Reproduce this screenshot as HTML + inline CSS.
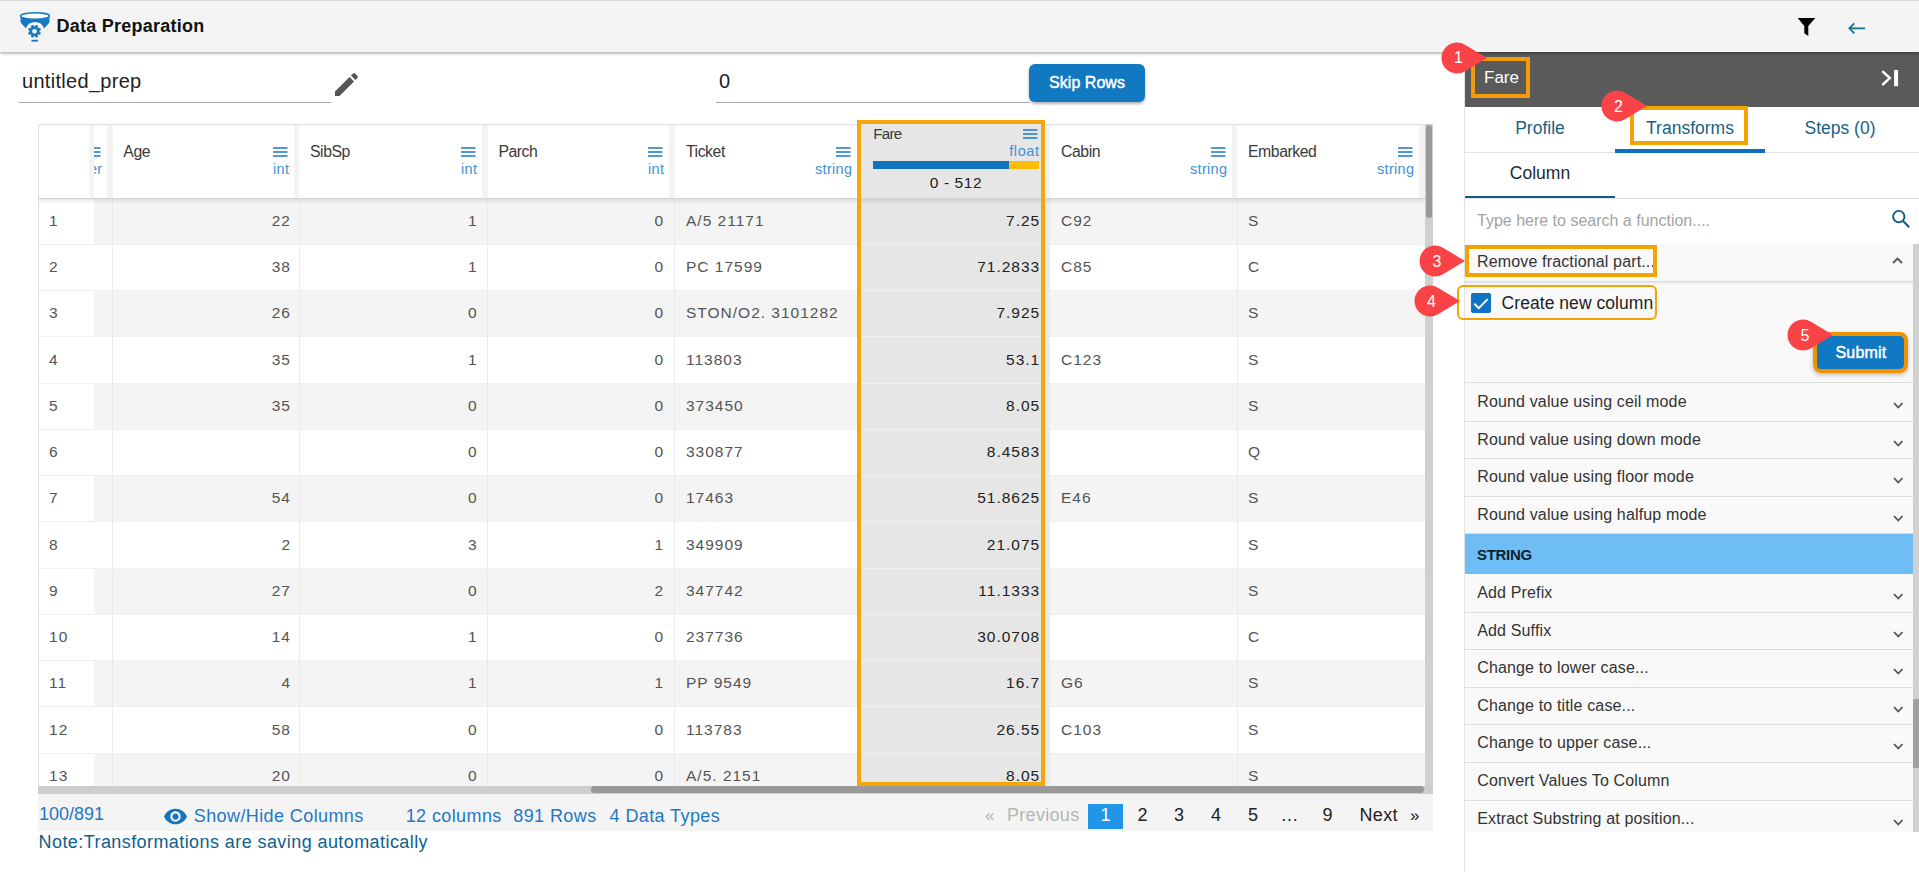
<!DOCTYPE html>
<html><head><meta charset="utf-8"><title>Data Preparation</title><style>
*{margin:0;padding:0;box-sizing:border-box}
html,body{width:1919px;height:872px;overflow:hidden;background:#fff;font-family:"Liberation Sans",sans-serif;position:relative}
.t{position:absolute;line-height:1;white-space:nowrap}
.r{position:absolute}
svg{position:absolute;overflow:visible}
</style></head><body>
<div class="r" style="left:0px;top:0px;width:1919px;height:52px;background:#f4f4f4;border-top:1px solid #dcdcdc;box-shadow:0 1.5px 3px rgba(0,0,0,.33);z-index:2"></div>
<svg style="left:20px;top:12px;z-index:3" width="30" height="30" viewBox="0 0 30 30">
<ellipse cx="15" cy="4" rx="14.5" ry="3.2" fill="#fff" stroke="#1478c5" stroke-width="1.4"/>
<path d="M0.6 4.5 L0.6 10.5 L6 16.5 A9.5 9.5 0 0 1 24 16.5 L29.4 10.5 L29.4 4.5 A14.5 3.6 0 0 1 0.6 4.5 Z" fill="#1478c5"/>
<g transform="translate(14.5,19.3)" fill="#1478c5">
<circle r="5.0"/>
<rect x="-1.3" y="-6.5" width="2.6" height="13" rx="0.5" transform="rotate(22.5)"/>
<rect x="-1.3" y="-6.5" width="2.6" height="13" rx="0.5" transform="rotate(67.5)"/>
<rect x="-1.3" y="-6.5" width="2.6" height="13" rx="0.5" transform="rotate(112.5)"/>
<rect x="-1.3" y="-6.5" width="2.6" height="13" rx="0.5" transform="rotate(157.5)"/>
<circle r="2.4" fill="#f4f4f4"/>
</g>
<rect x="11.5" y="27.8" width="6.5" height="1.8" fill="#1478c5"/>
</svg>
<div class="t" style="left:56.4px;top:16.8px;font-size:18px;color:#111;font-weight:bold;letter-spacing:0.25px;z-index:3">Data Preparation</div>
<svg style="left:1797px;top:18px;z-index:3" width="19" height="18" viewBox="0 0 19 18"><path d="M0.7 0 H18.3 L11.3 8 V18 L7.3 15.3 V8 Z" fill="#000"/></svg>
<svg style="left:1848px;top:21.5px;z-index:3" width="18" height="12" viewBox="0 0 18 12"><path d="M17 6.3 H1.5 M6.3 1.3 L1.3 6.3 L6.3 11.3" fill="none" stroke="#14708f" stroke-width="1.7"/></svg>
<div class="t" style="left:22.0px;top:71.4px;font-size:20px;color:#222;letter-spacing:0.3px;">untitled_prep</div>
<div class="r" style="left:19px;top:102px;width:312px;height:1px;background:#a6a6a6;"></div>
<svg style="left:335px;top:72.8px" width="24" height="23" viewBox="0 0 24 23"><path d="M0 23 L0 18.5 L14.5 4 L19 8.5 L4.5 23 Z M16 2.5 L18 0.5 Q19 -0.3 20 0.5 L22.5 3 Q23.3 4 22.5 5 L20.5 7 Z" fill="#555"/></svg>
<div class="t" style="left:719.0px;top:71.4px;font-size:20px;color:#222;">0</div>
<div class="r" style="left:716px;top:102px;width:313px;height:1px;background:#a6a6a6;"></div>
<div class="r" style="left:1029px;top:64px;width:116px;height:38px;background:#1178c2;border-radius:6px;box-shadow:0 2px 3px rgba(0,0,0,.3)"></div>
<div class="t" style="left:1049.0px;top:74.7px;font-size:16px;color:#fff;letter-spacing:0.05px;-webkit-text-stroke:0.45px #fff">Skip Rows</div>
<div class="r" style="left:38px;top:124px;width:1387px;height:1px;background:#dedede;"></div>
<div class="r" style="left:38px;top:124px;width:1px;height:662px;background:#dedede;"></div>
<div class="r" style="left:39px;top:125px;width:1386px;height:73px;background:#fff;"></div>
<div class="r" style="left:89px;top:125px;width:5px;height:73px;background:#f3f3f3;"></div>
<div class="r" style="left:107px;top:125px;width:5.5px;height:73px;background:#f3f3f3;"></div>
<div class="r" style="left:294px;top:125px;width:5px;height:73px;background:#f3f3f3;"></div>
<div class="r" style="left:482px;top:125px;width:5.5px;height:73px;background:#f3f3f3;"></div>
<div class="r" style="left:669px;top:125px;width:6px;height:73px;background:#f3f3f3;"></div>
<div class="r" style="left:1045px;top:125px;width:4.5px;height:73px;background:#f3f3f3;"></div>
<div class="r" style="left:1232px;top:125px;width:5px;height:73px;background:#f3f3f3;"></div>
<div class="r" style="left:1419px;top:125px;width:6px;height:73px;background:#f3f3f3;"></div>
<div class="r" style="left:39px;top:198px;width:1386px;height:588px;overflow:hidden">
<div class="r" style="left:55px;top:0.0px;width:1331px;height:46.25px;background:#f4f4f4;"></div>
<div class="r" style="left:55px;top:92.5px;width:1331px;height:46.25px;background:#f4f4f4;"></div>
<div class="r" style="left:55px;top:185.0px;width:1331px;height:46.25px;background:#f4f4f4;"></div>
<div class="r" style="left:55px;top:277.5px;width:1331px;height:46.25px;background:#f4f4f4;"></div>
<div class="r" style="left:55px;top:370.0px;width:1331px;height:46.25px;background:#f4f4f4;"></div>
<div class="r" style="left:55px;top:462.5px;width:1331px;height:46.25px;background:#f4f4f4;"></div>
<div class="r" style="left:55px;top:555.0px;width:1331px;height:46.25px;background:#f4f4f4;"></div>
<div class="r" style="left:0px;top:45.85px;width:1386px;height:1.0px;background:#efefef;"></div>
<div class="r" style="left:0px;top:92.1px;width:1386px;height:1.0px;background:#efefef;"></div>
<div class="r" style="left:0px;top:138.35px;width:1386px;height:1.0px;background:#efefef;"></div>
<div class="r" style="left:0px;top:184.6px;width:1386px;height:1.0px;background:#efefef;"></div>
<div class="r" style="left:0px;top:230.85px;width:1386px;height:1.0px;background:#efefef;"></div>
<div class="r" style="left:0px;top:277.1px;width:1386px;height:1.0px;background:#efefef;"></div>
<div class="r" style="left:0px;top:323.35px;width:1386px;height:1.0px;background:#efefef;"></div>
<div class="r" style="left:0px;top:369.6px;width:1386px;height:1.0px;background:#efefef;"></div>
<div class="r" style="left:0px;top:415.85px;width:1386px;height:1.0px;background:#efefef;"></div>
<div class="r" style="left:0px;top:462.1px;width:1386px;height:1.0px;background:#efefef;"></div>
<div class="r" style="left:0px;top:508.35px;width:1386px;height:1.0px;background:#efefef;"></div>
<div class="r" style="left:0px;top:554.6px;width:1386px;height:1.0px;background:#efefef;"></div>
<div class="r" style="left:0px;top:600.85px;width:1386px;height:1.0px;background:#efefef;"></div>
<div class="r" style="left:73px;top:0px;width:1px;height:588px;background:#ebebeb;"></div>
<div class="r" style="left:260px;top:0px;width:1px;height:588px;background:#ebebeb;"></div>
<div class="r" style="left:448px;top:0px;width:1px;height:588px;background:#ebebeb;"></div>
<div class="r" style="left:635.2px;top:0px;width:1.0px;height:588px;background:#ebebeb;"></div>
<div class="r" style="left:1198px;top:0px;width:1px;height:588px;background:#ebebeb;"></div>
<div class="r" style="left:822px;top:0px;width:180px;height:588px;background:#e6e6e6;"></div>
<div class="r" style="left:822px;top:45.85px;width:180px;height:1.0px;background:#f0f0f0;"></div>
<div class="r" style="left:822px;top:92.1px;width:180px;height:1.0px;background:#f0f0f0;"></div>
<div class="r" style="left:822px;top:138.35px;width:180px;height:1.0px;background:#f0f0f0;"></div>
<div class="r" style="left:822px;top:184.6px;width:180px;height:1.0px;background:#f0f0f0;"></div>
<div class="r" style="left:822px;top:230.85px;width:180px;height:1.0px;background:#f0f0f0;"></div>
<div class="r" style="left:822px;top:277.1px;width:180px;height:1.0px;background:#f0f0f0;"></div>
<div class="r" style="left:822px;top:323.35px;width:180px;height:1.0px;background:#f0f0f0;"></div>
<div class="r" style="left:822px;top:369.6px;width:180px;height:1.0px;background:#f0f0f0;"></div>
<div class="r" style="left:822px;top:415.85px;width:180px;height:1.0px;background:#f0f0f0;"></div>
<div class="r" style="left:822px;top:462.1px;width:180px;height:1.0px;background:#f0f0f0;"></div>
<div class="r" style="left:822px;top:508.35px;width:180px;height:1.0px;background:#f0f0f0;"></div>
<div class="r" style="left:822px;top:554.6px;width:180px;height:1.0px;background:#f0f0f0;"></div>
<div class="r" style="left:822px;top:600.85px;width:180px;height:1.0px;background:#f0f0f0;"></div>
<div class="r" style="left:1006px;top:0px;width:4.5px;height:588px;background:#ececec;"></div>
<div class="t" style="left:10.1px;top:14.8px;font-size:15.5px;color:#555;letter-spacing:1.0px">1</div>
<div class="t" style="right:1134.0px;top:14.8px;font-size:15.5px;color:#555;letter-spacing:1.0px">22</div>
<div class="t" style="right:947.5px;top:14.8px;font-size:15.5px;color:#555;letter-spacing:1.0px">1</div>
<div class="t" style="right:760.8px;top:14.8px;font-size:15.5px;color:#555;letter-spacing:1.0px">0</div>
<div class="t" style="left:647.0px;top:14.8px;font-size:15.5px;color:#555;letter-spacing:1.0px">A/5 21171</div>
<div class="t" style="right:384.8px;top:14.8px;font-size:15.5px;color:#222;letter-spacing:1.0px">7.25</div>
<div class="t" style="left:1022.0px;top:14.8px;font-size:15.5px;color:#555;letter-spacing:1.0px">C92</div>
<div class="t" style="left:1209.0px;top:14.8px;font-size:15.5px;color:#555;letter-spacing:1.0px">S</div>
<div class="t" style="left:10.1px;top:61.0px;font-size:15.5px;color:#555;letter-spacing:1.0px">2</div>
<div class="t" style="right:1134.0px;top:61.0px;font-size:15.5px;color:#555;letter-spacing:1.0px">38</div>
<div class="t" style="right:947.5px;top:61.0px;font-size:15.5px;color:#555;letter-spacing:1.0px">1</div>
<div class="t" style="right:760.8px;top:61.0px;font-size:15.5px;color:#555;letter-spacing:1.0px">0</div>
<div class="t" style="left:647.0px;top:61.0px;font-size:15.5px;color:#555;letter-spacing:1.0px">PC 17599</div>
<div class="t" style="right:384.8px;top:61.0px;font-size:15.5px;color:#222;letter-spacing:1.0px">71.2833</div>
<div class="t" style="left:1022.0px;top:61.0px;font-size:15.5px;color:#555;letter-spacing:1.0px">C85</div>
<div class="t" style="left:1209.0px;top:61.0px;font-size:15.5px;color:#555;letter-spacing:1.0px">C</div>
<div class="t" style="left:10.1px;top:107.3px;font-size:15.5px;color:#555;letter-spacing:1.0px">3</div>
<div class="t" style="right:1134.0px;top:107.3px;font-size:15.5px;color:#555;letter-spacing:1.0px">26</div>
<div class="t" style="right:947.5px;top:107.3px;font-size:15.5px;color:#555;letter-spacing:1.0px">0</div>
<div class="t" style="right:760.8px;top:107.3px;font-size:15.5px;color:#555;letter-spacing:1.0px">0</div>
<div class="t" style="left:647.0px;top:107.3px;font-size:15.5px;color:#555;letter-spacing:1.0px">STON/O2. 3101282</div>
<div class="t" style="right:384.8px;top:107.3px;font-size:15.5px;color:#222;letter-spacing:1.0px">7.925</div>
<div class="t" style="left:1209.0px;top:107.3px;font-size:15.5px;color:#555;letter-spacing:1.0px">S</div>
<div class="t" style="left:10.1px;top:153.5px;font-size:15.5px;color:#555;letter-spacing:1.0px">4</div>
<div class="t" style="right:1134.0px;top:153.5px;font-size:15.5px;color:#555;letter-spacing:1.0px">35</div>
<div class="t" style="right:947.5px;top:153.5px;font-size:15.5px;color:#555;letter-spacing:1.0px">1</div>
<div class="t" style="right:760.8px;top:153.5px;font-size:15.5px;color:#555;letter-spacing:1.0px">0</div>
<div class="t" style="left:647.0px;top:153.5px;font-size:15.5px;color:#555;letter-spacing:1.0px">113803</div>
<div class="t" style="right:384.8px;top:153.5px;font-size:15.5px;color:#222;letter-spacing:1.0px">53.1</div>
<div class="t" style="left:1022.0px;top:153.5px;font-size:15.5px;color:#555;letter-spacing:1.0px">C123</div>
<div class="t" style="left:1209.0px;top:153.5px;font-size:15.5px;color:#555;letter-spacing:1.0px">S</div>
<div class="t" style="left:10.1px;top:199.8px;font-size:15.5px;color:#555;letter-spacing:1.0px">5</div>
<div class="t" style="right:1134.0px;top:199.8px;font-size:15.5px;color:#555;letter-spacing:1.0px">35</div>
<div class="t" style="right:947.5px;top:199.8px;font-size:15.5px;color:#555;letter-spacing:1.0px">0</div>
<div class="t" style="right:760.8px;top:199.8px;font-size:15.5px;color:#555;letter-spacing:1.0px">0</div>
<div class="t" style="left:647.0px;top:199.8px;font-size:15.5px;color:#555;letter-spacing:1.0px">373450</div>
<div class="t" style="right:384.8px;top:199.8px;font-size:15.5px;color:#222;letter-spacing:1.0px">8.05</div>
<div class="t" style="left:1209.0px;top:199.8px;font-size:15.5px;color:#555;letter-spacing:1.0px">S</div>
<div class="t" style="left:10.1px;top:246.0px;font-size:15.5px;color:#555;letter-spacing:1.0px">6</div>
<div class="t" style="right:947.5px;top:246.0px;font-size:15.5px;color:#555;letter-spacing:1.0px">0</div>
<div class="t" style="right:760.8px;top:246.0px;font-size:15.5px;color:#555;letter-spacing:1.0px">0</div>
<div class="t" style="left:647.0px;top:246.0px;font-size:15.5px;color:#555;letter-spacing:1.0px">330877</div>
<div class="t" style="right:384.8px;top:246.0px;font-size:15.5px;color:#222;letter-spacing:1.0px">8.4583</div>
<div class="t" style="left:1209.0px;top:246.0px;font-size:15.5px;color:#555;letter-spacing:1.0px">Q</div>
<div class="t" style="left:10.1px;top:292.3px;font-size:15.5px;color:#555;letter-spacing:1.0px">7</div>
<div class="t" style="right:1134.0px;top:292.3px;font-size:15.5px;color:#555;letter-spacing:1.0px">54</div>
<div class="t" style="right:947.5px;top:292.3px;font-size:15.5px;color:#555;letter-spacing:1.0px">0</div>
<div class="t" style="right:760.8px;top:292.3px;font-size:15.5px;color:#555;letter-spacing:1.0px">0</div>
<div class="t" style="left:647.0px;top:292.3px;font-size:15.5px;color:#555;letter-spacing:1.0px">17463</div>
<div class="t" style="right:384.8px;top:292.3px;font-size:15.5px;color:#222;letter-spacing:1.0px">51.8625</div>
<div class="t" style="left:1022.0px;top:292.3px;font-size:15.5px;color:#555;letter-spacing:1.0px">E46</div>
<div class="t" style="left:1209.0px;top:292.3px;font-size:15.5px;color:#555;letter-spacing:1.0px">S</div>
<div class="t" style="left:10.1px;top:338.5px;font-size:15.5px;color:#555;letter-spacing:1.0px">8</div>
<div class="t" style="right:1134.0px;top:338.5px;font-size:15.5px;color:#555;letter-spacing:1.0px">2</div>
<div class="t" style="right:947.5px;top:338.5px;font-size:15.5px;color:#555;letter-spacing:1.0px">3</div>
<div class="t" style="right:760.8px;top:338.5px;font-size:15.5px;color:#555;letter-spacing:1.0px">1</div>
<div class="t" style="left:647.0px;top:338.5px;font-size:15.5px;color:#555;letter-spacing:1.0px">349909</div>
<div class="t" style="right:384.8px;top:338.5px;font-size:15.5px;color:#222;letter-spacing:1.0px">21.075</div>
<div class="t" style="left:1209.0px;top:338.5px;font-size:15.5px;color:#555;letter-spacing:1.0px">S</div>
<div class="t" style="left:10.1px;top:384.8px;font-size:15.5px;color:#555;letter-spacing:1.0px">9</div>
<div class="t" style="right:1134.0px;top:384.8px;font-size:15.5px;color:#555;letter-spacing:1.0px">27</div>
<div class="t" style="right:947.5px;top:384.8px;font-size:15.5px;color:#555;letter-spacing:1.0px">0</div>
<div class="t" style="right:760.8px;top:384.8px;font-size:15.5px;color:#555;letter-spacing:1.0px">2</div>
<div class="t" style="left:647.0px;top:384.8px;font-size:15.5px;color:#555;letter-spacing:1.0px">347742</div>
<div class="t" style="right:384.8px;top:384.8px;font-size:15.5px;color:#222;letter-spacing:1.0px">11.1333</div>
<div class="t" style="left:1209.0px;top:384.8px;font-size:15.5px;color:#555;letter-spacing:1.0px">S</div>
<div class="t" style="left:10.1px;top:431.0px;font-size:15.5px;color:#555;letter-spacing:1.0px">10</div>
<div class="t" style="right:1134.0px;top:431.0px;font-size:15.5px;color:#555;letter-spacing:1.0px">14</div>
<div class="t" style="right:947.5px;top:431.0px;font-size:15.5px;color:#555;letter-spacing:1.0px">1</div>
<div class="t" style="right:760.8px;top:431.0px;font-size:15.5px;color:#555;letter-spacing:1.0px">0</div>
<div class="t" style="left:647.0px;top:431.0px;font-size:15.5px;color:#555;letter-spacing:1.0px">237736</div>
<div class="t" style="right:384.8px;top:431.0px;font-size:15.5px;color:#222;letter-spacing:1.0px">30.0708</div>
<div class="t" style="left:1209.0px;top:431.0px;font-size:15.5px;color:#555;letter-spacing:1.0px">C</div>
<div class="t" style="left:10.1px;top:477.3px;font-size:15.5px;color:#555;letter-spacing:1.0px">11</div>
<div class="t" style="right:1134.0px;top:477.3px;font-size:15.5px;color:#555;letter-spacing:1.0px">4</div>
<div class="t" style="right:947.5px;top:477.3px;font-size:15.5px;color:#555;letter-spacing:1.0px">1</div>
<div class="t" style="right:760.8px;top:477.3px;font-size:15.5px;color:#555;letter-spacing:1.0px">1</div>
<div class="t" style="left:647.0px;top:477.3px;font-size:15.5px;color:#555;letter-spacing:1.0px">PP 9549</div>
<div class="t" style="right:384.8px;top:477.3px;font-size:15.5px;color:#222;letter-spacing:1.0px">16.7</div>
<div class="t" style="left:1022.0px;top:477.3px;font-size:15.5px;color:#555;letter-spacing:1.0px">G6</div>
<div class="t" style="left:1209.0px;top:477.3px;font-size:15.5px;color:#555;letter-spacing:1.0px">S</div>
<div class="t" style="left:10.1px;top:523.5px;font-size:15.5px;color:#555;letter-spacing:1.0px">12</div>
<div class="t" style="right:1134.0px;top:523.5px;font-size:15.5px;color:#555;letter-spacing:1.0px">58</div>
<div class="t" style="right:947.5px;top:523.5px;font-size:15.5px;color:#555;letter-spacing:1.0px">0</div>
<div class="t" style="right:760.8px;top:523.5px;font-size:15.5px;color:#555;letter-spacing:1.0px">0</div>
<div class="t" style="left:647.0px;top:523.5px;font-size:15.5px;color:#555;letter-spacing:1.0px">113783</div>
<div class="t" style="right:384.8px;top:523.5px;font-size:15.5px;color:#222;letter-spacing:1.0px">26.55</div>
<div class="t" style="left:1022.0px;top:523.5px;font-size:15.5px;color:#555;letter-spacing:1.0px">C103</div>
<div class="t" style="left:1209.0px;top:523.5px;font-size:15.5px;color:#555;letter-spacing:1.0px">S</div>
<div class="t" style="left:10.1px;top:569.8px;font-size:15.5px;color:#555;letter-spacing:1.0px">13</div>
<div class="t" style="right:1134.0px;top:569.8px;font-size:15.5px;color:#555;letter-spacing:1.0px">20</div>
<div class="t" style="right:947.5px;top:569.8px;font-size:15.5px;color:#555;letter-spacing:1.0px">0</div>
<div class="t" style="right:760.8px;top:569.8px;font-size:15.5px;color:#555;letter-spacing:1.0px">0</div>
<div class="t" style="left:647.0px;top:569.8px;font-size:15.5px;color:#555;letter-spacing:1.0px">A/5. 2151</div>
<div class="t" style="right:384.8px;top:569.8px;font-size:15.5px;color:#222;letter-spacing:1.0px">8.05</div>
<div class="t" style="left:1209.0px;top:569.8px;font-size:15.5px;color:#555;letter-spacing:1.0px">S</div>
</div>
<div class="r" style="left:39px;top:198px;width:1386px;height:1px;background:#d4d4d4;"></div>
<div class="r" style="left:39px;top:199px;width:1386px;height:5px;background:transparent;background:linear-gradient(rgba(0,0,0,.09),rgba(0,0,0,0))"></div>
<div class="t" style="left:123.3px;top:143.6px;font-size:15.8px;color:#3a3a3a;letter-spacing:-0.45px;">Age</div>
<svg style="left:272.5px;top:146.5px" width="14.5" height="10" viewBox="0 0 14.5 10"><path d="M0 1 H14.5 M0 5 H14.5 M0 9 H14.5" stroke="#1a7ac9" stroke-width="1.3"/></svg>
<div class="t" style="right:1629.7px;top:161.7px;font-size:14.5px;color:#3d92d4;letter-spacing:0.3px;">int</div>
<div class="t" style="left:310.0px;top:143.6px;font-size:15.8px;color:#3a3a3a;letter-spacing:-0.45px;">SibSp</div>
<svg style="left:460.5px;top:146.5px" width="14.5" height="10" viewBox="0 0 14.5 10"><path d="M0 1 H14.5 M0 5 H14.5 M0 9 H14.5" stroke="#1a7ac9" stroke-width="1.3"/></svg>
<div class="t" style="right:1441.7px;top:161.7px;font-size:14.5px;color:#3d92d4;letter-spacing:0.3px;">int</div>
<div class="t" style="left:498.4px;top:143.6px;font-size:15.8px;color:#3a3a3a;letter-spacing:-0.45px;">Parch</div>
<svg style="left:647.5px;top:146.5px" width="14.5" height="10" viewBox="0 0 14.5 10"><path d="M0 1 H14.5 M0 5 H14.5 M0 9 H14.5" stroke="#1a7ac9" stroke-width="1.3"/></svg>
<div class="t" style="right:1254.7px;top:161.7px;font-size:14.5px;color:#3d92d4;letter-spacing:0.3px;">int</div>
<div class="t" style="left:686.0px;top:143.6px;font-size:15.8px;color:#3a3a3a;letter-spacing:-0.45px;">Ticket</div>
<svg style="left:835.5px;top:146.5px" width="14.5" height="10" viewBox="0 0 14.5 10"><path d="M0 1 H14.5 M0 5 H14.5 M0 9 H14.5" stroke="#1a7ac9" stroke-width="1.3"/></svg>
<div class="t" style="right:1066.7px;top:161.7px;font-size:14.5px;color:#3d92d4;letter-spacing:0.3px;">string</div>
<div class="t" style="left:1061.0px;top:143.6px;font-size:15.8px;color:#3a3a3a;letter-spacing:-0.45px;">Cabin</div>
<svg style="left:1210.5px;top:146.5px" width="14.5" height="10" viewBox="0 0 14.5 10"><path d="M0 1 H14.5 M0 5 H14.5 M0 9 H14.5" stroke="#1a7ac9" stroke-width="1.3"/></svg>
<div class="t" style="right:691.7px;top:161.7px;font-size:14.5px;color:#3d92d4;letter-spacing:0.3px;">string</div>
<div class="t" style="left:1248.0px;top:143.6px;font-size:15.8px;color:#3a3a3a;letter-spacing:-0.45px;">Embarked</div>
<svg style="left:1397.5px;top:146.5px" width="14.5" height="10" viewBox="0 0 14.5 10"><path d="M0 1 H14.5 M0 5 H14.5 M0 9 H14.5" stroke="#1a7ac9" stroke-width="1.3"/></svg>
<div class="t" style="right:504.7px;top:161.7px;font-size:14.5px;color:#3d92d4;letter-spacing:0.3px;">string</div>
<div class="r" style="left:94px;top:125px;width:13px;height:73px;overflow:hidden"><svg style="left:-8.5px;top:21.5px" width="14.5" height="10" viewBox="0 0 14.5 10"><path d="M0 1 H14.5 M0 5 H14.5 M0 9 H14.5" stroke="#1a7ac9" stroke-width="1.3"/></svg><div class="t" style="right:5px;top:36.7px;font-size:14.5px;color:#3d92d4">er</div></div>
<div class="r" style="left:861px;top:124px;width:180px;height:74px;background:#e6e6e6;"></div>
<div class="t" style="left:873.2px;top:126.0px;font-size:15.2px;color:#3a3a3a;letter-spacing:-0.7px;">Fare</div>
<svg style="left:1022.5px;top:128.5px" width="14.5" height="10" viewBox="0 0 14.5 10"><path d="M0 1 H14.5 M0 5 H14.5 M0 9 H14.5" stroke="#1a7ac9" stroke-width="1.3"/></svg>
<div class="t" style="right:879.4px;top:143.9px;font-size:14.5px;color:#3d92d4;letter-spacing:0.6px;">float</div>
<div class="r" style="left:873px;top:161px;width:136px;height:8px;background:#1174c0;"></div>
<div class="r" style="left:1009px;top:161px;width:30px;height:8px;background:#fbbd0a;"></div>
<div class="t" style="left:756.0px;width:400px;text-align:center;top:175.1px;font-size:15.5px;color:#222;letter-spacing:0.6px;">0 - 512</div>
<div class="r" style="left:857px;top:120px;width:188px;height:666px;background:transparent;border:4px solid #f5a60a;border-bottom:none;z-index:4"></div>
<div class="r" style="left:857px;top:782px;width:188px;height:4px;background:#f5a60a;z-index:4"></div>
<div class="r" style="left:1425px;top:124px;width:8px;height:662px;background:#d0d0d0;"></div>
<div class="r" style="left:1425.5px;top:125px;width:6.5px;height:92.5px;background:#9a9a9a;border-radius:4px"></div>
<div class="r" style="left:38px;top:786px;width:1395px;height:7.5px;background:#cdcdcd;"></div>
<div class="r" style="left:591px;top:786px;width:833px;height:7px;background:#999;border-radius:4px;z-index:5"></div>
<div class="r" style="left:38px;top:793.5px;width:1395px;height:37.0px;background:#f4f4f4;"></div>
<div class="t" style="left:39.0px;top:805.0px;font-size:18px;color:#1f78c4;">100/891</div>
<svg style="left:163px;top:804px" width="25" height="25" viewBox="0 0 24 24"><path d="M12 4.5C7 4.5 2.73 7.61 1 12c1.73 4.39 6 7.5 11 7.5s9.27-3.11 11-7.5c-1.73-4.39-6-7.5-11-7.5zM12 17c-2.76 0-5-2.24-5-5s2.24-5 5-5 5 2.24 5 5-2.24 5-5 5zm0-8c-1.66 0-3 1.34-3 3s1.34 3 3 3 3-1.34 3-3-1.34-3-3-3z" fill="#1473c0"/></svg>
<div class="t" style="left:193.8px;top:807.3px;font-size:18px;color:#1f78c4;letter-spacing:0.4px;">Show/Hide Columns</div>
<div class="t" style="left:405.7px;top:807.3px;font-size:18px;color:#1f78c4;letter-spacing:0.4px;">12 columns</div>
<div class="t" style="left:513.3px;top:807.3px;font-size:18px;color:#1f78c4;letter-spacing:0.4px;">891 Rows</div>
<div class="t" style="left:609.6px;top:807.3px;font-size:18px;color:#1f78c4;letter-spacing:0.4px;">4 Data Types</div>
<div class="t" style="left:985.0px;top:806.6px;font-size:17px;color:#b5b5b5;">«</div>
<div class="t" style="left:1007.0px;top:805.8px;font-size:18px;color:#b5b5b5;letter-spacing:0.3px;">Previous</div>
<div class="r" style="left:1088px;top:804px;width:35px;height:24.600000000000023px;background:#2196e8;"></div>
<div class="t" style="left:905.5px;width:400px;text-align:center;top:805.8px;font-size:18px;color:#fff;">1</div>
<div class="t" style="left:942.4px;width:400px;text-align:center;top:805.8px;font-size:18px;color:#222;">2</div>
<div class="t" style="left:978.9px;width:400px;text-align:center;top:805.8px;font-size:18px;color:#222;">3</div>
<div class="t" style="left:1015.9px;width:400px;text-align:center;top:805.8px;font-size:18px;color:#222;">4</div>
<div class="t" style="left:1052.9px;width:400px;text-align:center;top:805.8px;font-size:18px;color:#222;">5</div>
<div class="t" style="left:1089.6px;width:400px;text-align:center;top:805.8px;font-size:18px;color:#222;">…</div>
<div class="t" style="left:1127.4px;width:400px;text-align:center;top:805.8px;font-size:18px;color:#222;">9</div>
<div class="t" style="left:1359.4px;top:805.8px;font-size:18px;color:#222;letter-spacing:0.4px;">Next</div>
<div class="t" style="left:1214.7px;width:400px;text-align:center;top:806.6px;font-size:17px;color:#222;">»</div>
<div class="t" style="left:38.6px;top:833.1px;font-size:18px;color:#0e5f8c;letter-spacing:0.42px;">Note:Transformations are saving automatically</div>
<div class="r" style="left:1464px;top:52px;width:1px;height:820px;background:#e4e4e4;"></div>
<div class="r" style="left:1465px;top:52px;width:454px;height:54.5px;background:#5a5a5a;"></div>
<div class="t" style="left:1484.0px;top:69.4px;font-size:17px;color:#fff;">Fare</div>
<svg style="left:1880px;top:70px" width="19" height="17" viewBox="0 0 19 17"><path d="M2.3 1.2 L9.8 8.1 L2.3 15" fill="none" stroke="#fff" stroke-width="2.4"/><rect x="14.1" y="0" width="4" height="16.2" fill="#fff"/></svg>
<div class="r" style="left:1465px;top:106.5px;width:454px;height:45.5px;background:#fff;"></div>
<div class="r" style="left:1465px;top:151.5px;width:454px;height:1.0px;background:#e2e2e2;"></div>
<div class="r" style="left:1615px;top:149px;width:150px;height:3.5px;background:#0f6fc2;"></div>
<div class="t" style="left:1340.0px;width:400px;text-align:center;top:120.4px;font-size:17.5px;color:#1a5f85;">Profile</div>
<div class="t" style="left:1490.0px;width:400px;text-align:center;top:120.4px;font-size:17.5px;color:#1a5f85;">Transforms</div>
<div class="t" style="left:1640.0px;width:400px;text-align:center;top:120.4px;font-size:17.5px;color:#1a5f85;">Steps (0)</div>
<div class="t" style="left:1340.0px;width:400px;text-align:center;top:165.2px;font-size:17.5px;color:#1c2a38;">Column</div>
<div class="r" style="left:1465px;top:196px;width:150px;height:2px;background:#0b5f8a;"></div>
<div class="r" style="left:1465px;top:198px;width:454px;height:1px;background:#e2e2e2;"></div>
<div class="t" style="left:1477.0px;top:213.1px;font-size:16px;color:#a3a3a3;">Type here to search a function....</div>
<svg style="left:1891px;top:211px" width="19" height="17" viewBox="0 0 19 17"><circle cx="7.8" cy="5.6" r="5.7" fill="none" stroke="#0d5f8a" stroke-width="1.9"/><path d="M11.8 9.8 L18.2 16.2" stroke="#0d5f8a" stroke-width="2.2"/></svg>
<div class="r" style="left:1465px;top:244px;width:448px;height:587.5px;background:#f9f9f9;"></div>
<div class="r" style="left:1913px;top:244px;width:6px;height:587.5px;background:#d0d0d0;"></div>
<div class="r" style="left:1913px;top:699px;width:6px;height:69px;background:#a0a0a0;"></div>
<div class="t" style="left:1477.0px;top:254.0px;font-size:16px;color:#333;letter-spacing:0.15px;">Remove fractional part...</div>
<svg style="left:1892px;top:257px" width="11" height="7" viewBox="0 0 11 7"><path d="M1 6 L5.5 1.5 L10 6" fill="none" stroke="#555" stroke-width="1.8"/></svg>
<div class="r" style="left:1465px;top:280.8px;width:448px;height:1.0px;background:#d9d9d9;"></div>
<div class="r" style="left:1465px;top:281.8px;width:448px;height:3.1999999999999886px;background:transparent;background:linear-gradient(rgba(0,0,0,.08),rgba(0,0,0,0))"></div>
<div class="r" style="left:1471px;top:293px;width:20px;height:20px;background:#1072c2;border-radius:2px"></div>
<svg style="left:1471px;top:293px" width="20" height="20" viewBox="0 0 20 20"><path d="M3.3 10.8 L7.8 15.2 L16.6 6.1" fill="none" stroke="#fff" stroke-width="1.9"/></svg>
<div class="t" style="left:1501.6px;top:294.8px;font-size:17.5px;color:#222;letter-spacing:0.05px;">Create new column</div>
<div class="r" style="left:1816px;top:336px;width:88px;height:33px;background:#1178c2;border-radius:4px"></div>
<div class="t" style="left:1661.0px;width:400px;text-align:center;top:344.5px;font-size:16px;color:#fff;letter-spacing:0.2px;-webkit-text-stroke:0.45px #fff">Submit</div>
<div class="r" style="left:1465px;top:381.5px;width:448px;height:1.0px;background:#dedede;"></div>
<div class="r" style="left:1465px;top:420.8px;width:448px;height:1.0px;background:#dcdcdc;"></div>
<div class="t" style="left:1477.2px;top:394.2px;font-size:16px;color:#333;letter-spacing:0.15px;">Round value using ceil mode</div>
<svg style="left:1892.5px;top:402.0px" width="10.5" height="7" viewBox="0 0 10.5 7"><path d="M1 1 L5.25 5.5 L9.5 1" fill="none" stroke="#555" stroke-width="1.8"/></svg>
<div class="r" style="left:1465px;top:457.9px;width:448px;height:1.0px;background:#dcdcdc;"></div>
<div class="t" style="left:1477.2px;top:432.0px;font-size:16px;color:#333;letter-spacing:0.15px;">Round value using down mode</div>
<svg style="left:1892.5px;top:439.8px" width="10.5" height="7" viewBox="0 0 10.5 7"><path d="M1 1 L5.25 5.5 L9.5 1" fill="none" stroke="#555" stroke-width="1.8"/></svg>
<div class="r" style="left:1465px;top:495.9px;width:448px;height:1.0px;background:#dcdcdc;"></div>
<div class="t" style="left:1477.2px;top:469.1px;font-size:16px;color:#333;letter-spacing:0.15px;">Round value using floor mode</div>
<svg style="left:1892.5px;top:476.9px" width="10.5" height="7" viewBox="0 0 10.5 7"><path d="M1 1 L5.25 5.5 L9.5 1" fill="none" stroke="#555" stroke-width="1.8"/></svg>
<div class="r" style="left:1465px;top:533.1px;width:448px;height:1.0px;background:#dcdcdc;"></div>
<div class="t" style="left:1477.2px;top:507.1px;font-size:16px;color:#333;letter-spacing:0.15px;">Round value using halfup mode</div>
<svg style="left:1892.5px;top:514.9px" width="10.5" height="7" viewBox="0 0 10.5 7"><path d="M1 1 L5.25 5.5 L9.5 1" fill="none" stroke="#555" stroke-width="1.8"/></svg>
<div class="r" style="left:1465px;top:533.6px;width:448px;height:40.39999999999998px;background:#6ebef5;"></div>
<div class="t" style="left:1477.0px;top:546.8px;font-size:15px;color:#0f1e2e;font-weight:bold;letter-spacing:-0.3px;">STRING</div>
<div class="r" style="left:1465px;top:611.5px;width:448px;height:1.0px;background:#dcdcdc;"></div>
<div class="t" style="left:1477.2px;top:584.7px;font-size:16px;color:#333;letter-spacing:0.15px;">Add Prefix</div>
<svg style="left:1892.5px;top:592.5px" width="10.5" height="7" viewBox="0 0 10.5 7"><path d="M1 1 L5.25 5.5 L9.5 1" fill="none" stroke="#555" stroke-width="1.8"/></svg>
<div class="r" style="left:1465px;top:648.5px;width:448px;height:1.0px;background:#dcdcdc;"></div>
<div class="t" style="left:1477.2px;top:622.7px;font-size:16px;color:#333;letter-spacing:0.15px;">Add Suffix</div>
<svg style="left:1892.5px;top:630.5px" width="10.5" height="7" viewBox="0 0 10.5 7"><path d="M1 1 L5.25 5.5 L9.5 1" fill="none" stroke="#555" stroke-width="1.8"/></svg>
<div class="r" style="left:1465px;top:686.5px;width:448px;height:1.0px;background:#dcdcdc;"></div>
<div class="t" style="left:1477.2px;top:659.7px;font-size:16px;color:#333;letter-spacing:0.15px;">Change to lower case...</div>
<svg style="left:1892.5px;top:667.5px" width="10.5" height="7" viewBox="0 0 10.5 7"><path d="M1 1 L5.25 5.5 L9.5 1" fill="none" stroke="#555" stroke-width="1.8"/></svg>
<div class="r" style="left:1465px;top:723.5px;width:448px;height:1.0px;background:#dcdcdc;"></div>
<div class="t" style="left:1477.2px;top:697.7px;font-size:16px;color:#333;letter-spacing:0.15px;">Change to title case...</div>
<svg style="left:1892.5px;top:705.5px" width="10.5" height="7" viewBox="0 0 10.5 7"><path d="M1 1 L5.25 5.5 L9.5 1" fill="none" stroke="#555" stroke-width="1.8"/></svg>
<div class="r" style="left:1465px;top:761.5px;width:448px;height:1.0px;background:#dcdcdc;"></div>
<div class="t" style="left:1477.2px;top:734.7px;font-size:16px;color:#333;letter-spacing:0.15px;">Change to upper case...</div>
<svg style="left:1892.5px;top:742.5px" width="10.5" height="7" viewBox="0 0 10.5 7"><path d="M1 1 L5.25 5.5 L9.5 1" fill="none" stroke="#555" stroke-width="1.8"/></svg>
<div class="r" style="left:1465px;top:800.1px;width:448px;height:1.0px;background:#dcdcdc;"></div>
<div class="t" style="left:1477.2px;top:772.7px;font-size:16px;color:#333;letter-spacing:0.15px;">Convert Values To Column</div>
<div class="r" style="left:1465px;top:838.5px;width:448px;height:1.0px;background:#dcdcdc;"></div>
<div class="t" style="left:1477.2px;top:811.3px;font-size:16px;color:#333;letter-spacing:0.15px;">Extract Substring at position...</div>
<svg style="left:1892.5px;top:819.1px" width="10.5" height="7" viewBox="0 0 10.5 7"><path d="M1 1 L5.25 5.5 L9.5 1" fill="none" stroke="#555" stroke-width="1.8"/></svg>
<div class="r" style="left:1465px;top:831.5px;width:454px;height:40.5px;background:#fff;"></div>
<div class="r" style="left:1471px;top:57px;width:59px;height:41px;background:transparent;border:4px solid #f39a0a;z-index:10"></div>
<div class="r" style="left:1630px;top:106px;width:118px;height:39px;background:transparent;border:4px solid #f5a300;z-index:10"></div>
<div class="r" style="left:1465px;top:245px;width:192px;height:32px;background:transparent;border:4px solid #f5a300;z-index:10"></div>
<div class="r" style="left:1457px;top:285px;width:199.5px;height:34.69999999999999px;background:transparent;border:2px solid #f5a300;border-radius:6px;z-index:10"></div>
<div class="r" style="left:1813px;top:332px;width:95px;height:41px;background:transparent;border:4px solid #f39200;border-radius:8px;z-index:10;box-shadow:0 2px 4px rgba(0,0,0,.25)"></div>
<svg style="left:1440.5px;top:41.6px;z-index:11" width="48" height="32" viewBox="-16 -16 48 32"><path d="M30 0 L8.01 -13.27 A15.5 15.5 0 1 0 8.01 13.27 Z" fill="#fa4347"/></svg>
<div class="t" style="left:1258.5px;width:400px;text-align:center;top:50.4px;font-size:16px;color:#fff;z-index:12">1</div>
<svg style="left:1600.5px;top:90.3px;z-index:11" width="48" height="32" viewBox="-16 -16 48 32"><path d="M30 0 L8.01 -13.27 A15.5 15.5 0 1 0 8.01 13.27 Z" fill="#fa4347"/></svg>
<div class="t" style="left:1418.5px;width:400px;text-align:center;top:99.1px;font-size:16px;color:#fff;z-index:12">2</div>
<svg style="left:1419px;top:245.3px;z-index:11" width="48" height="32" viewBox="-16 -16 48 32"><path d="M30 0 L8.01 -13.27 A15.5 15.5 0 1 0 8.01 13.27 Z" fill="#fa4347"/></svg>
<div class="t" style="left:1237.0px;width:400px;text-align:center;top:254.1px;font-size:16px;color:#fff;z-index:12">3</div>
<svg style="left:1413.5px;top:285.2px;z-index:11" width="48" height="32" viewBox="-16 -16 48 32"><path d="M30 0 L8.01 -13.27 A15.5 15.5 0 1 0 8.01 13.27 Z" fill="#fa4347"/></svg>
<div class="t" style="left:1231.5px;width:400px;text-align:center;top:294.0px;font-size:16px;color:#fff;z-index:12">4</div>
<svg style="left:1787px;top:319.4px;z-index:11" width="48" height="32" viewBox="-16 -16 48 32"><path d="M30 0 L8.01 -13.27 A15.5 15.5 0 1 0 8.01 13.27 Z" fill="#fa4347"/></svg>
<div class="t" style="left:1605.0px;width:400px;text-align:center;top:328.2px;font-size:16px;color:#fff;z-index:12">5</div>
</body></html>
